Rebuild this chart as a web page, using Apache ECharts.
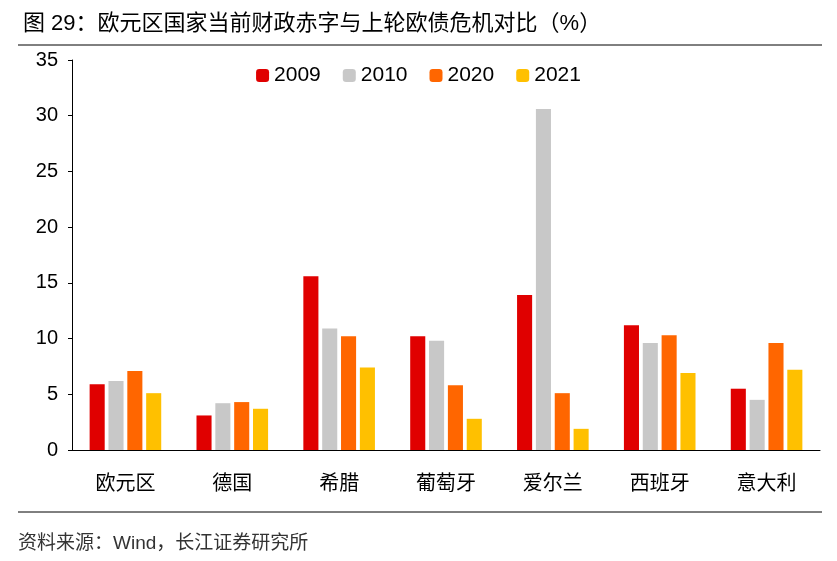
<!DOCTYPE html>
<html><head><meta charset="utf-8">
<script src="https://cdn.jsdelivr.net/npm/echarts@6/dist/echarts.min.js"></script>
<style>body{margin:0}#c{width:837px;height:561px}</style>
</head><body><div id="c"></div>
<script>
var categories = ['欧元区', '德国', '希腊', '葡萄牙', '爱尔兰', '西班牙', '意大利'];
var years = ['2009', '2010', '2020', '2021'];
var v2009 = [5.9, 3.1, 15.6, 10.2, 13.9, 11.2, 5.5];
var v2010 = [6.2, 4.2, 10.9, 9.8, 30.6, 9.6, 4.5];
var v2020 = [7.1, 4.3, 10.2, 5.8, 5.1, 10.3, 9.6];
var v2021 = [5.1, 3.7, 7.4, 2.8, 1.9, 6.9, 7.2];
var colors = ['#E00000', '#C8C8C8', '#FF6600', '#FFC000'];
var font = 'Liberation Sans, Noto Sans CJK SC, sans-serif';

var myChart = echarts.init(document.getElementById('c'));
var all = [v2009, v2010, v2020, v2021];
var option = {
    animation: false,
    color: colors,
    textStyle: {fontFamily: font},
    title: {text: '图 29：欧元区国家当前财政赤字与上轮欧债危机对比（%）', left: 18, top: 8,
        textStyle: {fontSize: 22, fontWeight: 'normal', color: '#000', fontFamily: font}},
    graphic: [
        {type: 'line', shape: {x1: 18, y1: 45, x2: 822, y2: 45}, style: {stroke: '#000', lineWidth: 1}},
        {type: 'line', shape: {x1: 18, y1: 512, x2: 822, y2: 512}, style: {stroke: '#000', lineWidth: 1}},
        {type: 'text', left: 18, top: 534, style: {text: '资料来源：Wind，长江证券研究所', fontSize: 19, fill: '#333', fontFamily: font}}
    ],
    legend: {top: 60, left: 'center', itemWidth: 13, itemHeight: 13, itemGap: 22,
        textStyle: {fontSize: 21, color: '#000'}, data: years},
    grid: {left: 72, right: 17, top: 60, bottom: 111},
    xAxis: {type: 'category', data: categories,
        axisLine: {lineStyle: {color: '#000'}}, axisTick: {show: false},
        axisLabel: {fontSize: 20, color: '#000', margin: 24}},
    yAxis: {type: 'value', min: 0, max: 35, interval: 5,
        axisLine: {show: true, lineStyle: {color: '#000'}},
        axisTick: {show: true, length: 4, lineStyle: {color: '#000'}},
        splitLine: {show: false},
        axisLabel: {fontSize: 20, color: '#000', margin: 14}},
    series: years.map(function (y, i) {
        return {name: y, type: 'bar', data: all[i], barGap: '25%', barCategoryGap: '33%'};
    })
};
myChart.setOption(option);
</script></body></html>
